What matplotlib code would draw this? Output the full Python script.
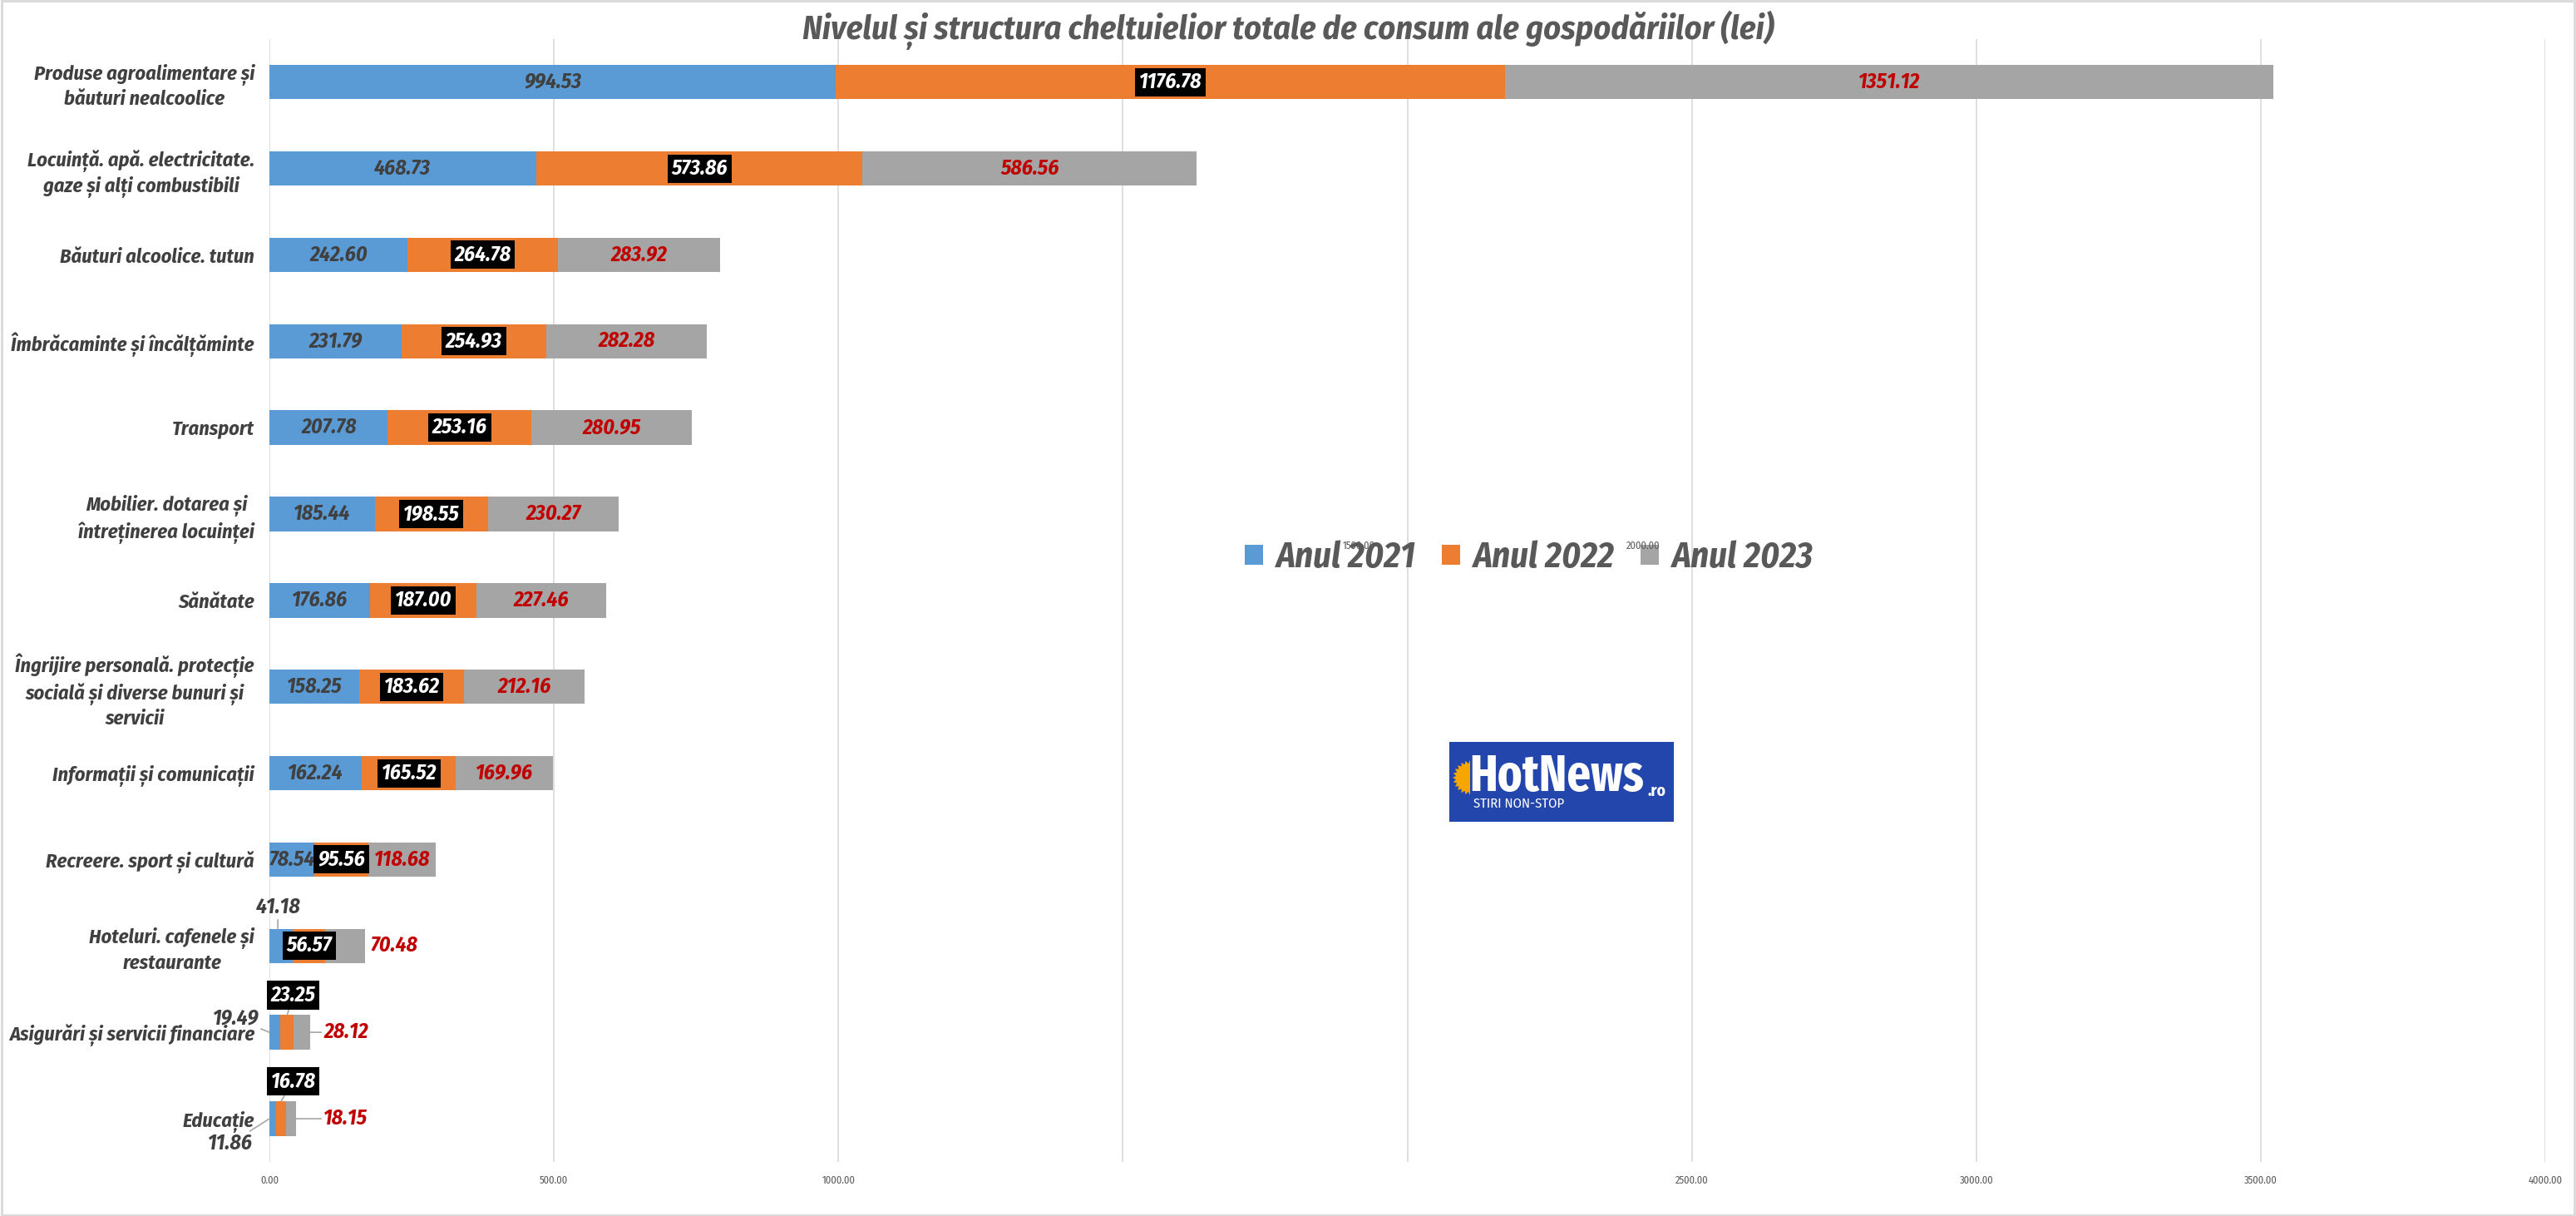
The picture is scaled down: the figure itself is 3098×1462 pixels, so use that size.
import numpy as np
import matplotlib.pyplot as plt
from matplotlib import font_manager
from matplotlib.patches import Rectangle, Polygon

# categories, top to bottom
categories = [
    "Produse agroalimentare și\nbăuturi nealcoolice",
    "Locuință. apă. electricitate.\ngaze și alți combustibili",
    "Băuturi alcoolice. tutun",
    "Îmbrăcaminte și încălțăminte",
    "Transport",
    "Mobilier. dotarea și\nîntreținerea locuinței",
    "Sănătate",
    "Îngrijire personală. protecție\nsocială și diverse bunuri și\nservicii",
    "Informații și comunicații",
    "Recreere. sport și cultură",
    "Hoteluri. cafenele și\nrestaurante",
    "Asigurări și servicii financiare",
    "Educație",
]
years = ["Anul 2021", "Anul 2022", "Anul 2023"]
v2021 = [994.53, 468.73, 242.60, 231.79, 207.78, 185.44, 176.86, 158.25, 162.24, 78.54, 41.18, 19.49, 11.86]
v2022 = [1176.78, 573.86, 264.78, 254.93, 253.16, 198.55, 187.00, 183.62, 165.52, 95.56, 56.57, 23.25, 16.78]
v2023 = [1351.12, 586.56, 283.92, 282.28, 280.95, 230.27, 227.46, 212.16, 169.96, 118.68, 70.48, 28.12, 18.15]
x_ticks = [0, 500, 1000, 1500, 2000, 2500, 3000, 3500, 4000]

# a narrow face is closest to the squeezed Calibri of the original
avail = {f.name for f in font_manager.fontManager.ttflist}
if "Fira Sans Condensed" in avail:
    FONT, k = ["Fira Sans Condensed", "DejaVu Sans"], 1.0
elif "Liberation Sans Narrow" in avail:
    FONT, k = ["Liberation Sans Narrow", "DejaVu Sans"], 1.0
else:
    FONT, k = ["Liberation Sans", "DejaVu Sans"], 0.82
plt.rcParams["font.family"] = FONT

colors = ["#5B9BD5", "#ED7D31", "#A5A5A5"]
TXT = "#404040"
GREY = "#595959"
W, H = 3098, 1462

fig = plt.figure(figsize=(W / 100, H / 100), dpi=100)
ax = fig.add_axes([0.1046, 0.0445, 0.8835, 0.9235])

y = np.arange(len(categories))
series = [np.array(v2021), np.array(v2022), np.array(v2023)]
left = np.zeros(len(categories))
bars = []
lefts = []
for vals, c, name in zip(series, colors, years):
    b = ax.barh(y, vals, left=left, height=0.4, color=c, label=name, zorder=3)
    bars.append(b)
    lefts.append(left.copy())
    left = left + vals

ax.set_xlim(0, 4000)
ax.set_ylim(len(categories) - 0.5, -0.5)
ax.set_xticks(x_ticks)
ax.set_xticklabels([f"{t:.2f}" if t not in (1500, 2000) else "" for t in x_ticks],
                   fontsize=9 * k, color=GREY)
ax.tick_params(axis="x", length=0, pad=12)
ax.set_yticks(y)
ax.set_yticklabels(categories, fontsize=17.5 * k, color=TXT, style="italic",
                   fontweight="bold", linespacing=1.3)
for lab in ax.get_yticklabels():
    lab.set_multialignment("center")
ax.tick_params(axis="y", length=0, pad=13)
ax.grid(axis="x", color="#D9D9D9", linewidth=1.2, zorder=0)
for s in ax.spines.values():
    s.set_visible(False)

lab_kw = dict(fontsize=18.5 * k, style="italic", fontweight="bold", va="center", zorder=5)
box = dict(boxstyle="square,pad=0.18", fc="black", ec="none")
line = dict(arrowstyle="-", color="#A6A6A6", lw=1.2, shrinkA=0, shrinkB=0)

n_big = len(categories) - 3
for i in range(len(categories)):
    c0 = lefts[0][i] + v2021[i] / 2
    c1 = lefts[1][i] + v2022[i] / 2
    c2 = lefts[2][i] + v2023[i] / 2
    end = lefts[2][i] + v2023[i]
    if i < n_big:
        ax.text(c0, y[i], f"{v2021[i]:.2f}", color=TXT, ha="center", **lab_kw)
        ax.text(c1, y[i], f"{v2022[i]:.2f}", color="white", ha="center", bbox=box, **lab_kw)
        ax.text(c2, y[i], f"{v2023[i]:.2f}", color="#C00000", ha="center", **lab_kw)
    elif i == n_big:
        # Hoteluri
        ax.annotate(f"{v2021[i]:.2f}", xy=(c0 - 6, y[i] - 0.2), xytext=(15, y[i] - 0.45),
                    color=TXT, ha="center", arrowprops=line, **lab_kw)
        ax.text(c1, y[i], f"{v2022[i]:.2f}", color="white", ha="center", bbox=box, **lab_kw)
        ax.text(end + 9, y[i], f"{v2023[i]:.2f}", color="#C00000", ha="left", **lab_kw)
    else:
        dy_low = -0.16 if i == n_big + 1 else 0.29
        ax.annotate(f"{v2021[i]:.2f}", xy=(0, y[i]), xytext=(-19 if dy_low < 0 else -30, y[i] + dy_low),
                    color=TXT, ha="right", arrowprops=line, **lab_kw)
        ax.annotate(f"{v2022[i]:.2f}", xy=(c1, y[i] - 0.2), xytext=(42, y[i] - 0.43),
                    color="white", ha="center", bbox=box, arrowprops=line, **lab_kw)
        ax.annotate(f"{v2023[i]:.2f}", xy=(end, y[i]), xytext=(95, y[i]),
                    color="#C00000", ha="left", arrowprops=line, **lab_kw)

fig.text(0.5, 0.975, "Nivelul și structura cheltuielior totale de consum ale gospodăriilor (lei)",
         ha="center", va="center", fontsize=29 * k, style="italic", fontweight="bold", color=GREY)

leg = ax.legend(handles=bars, loc="center", bbox_to_anchor=(0.5935, 0.541),
                bbox_transform=fig.transFigure, ncol=3, frameon=False,
                handlelength=0.5, handleheight=0.5, handletextpad=0.35, columnspacing=0.75,
                prop=dict(family=FONT, size=31 * k, style="italic", weight="bold"))
for t in leg.get_texts():
    t.set_color(GREY)

# the two stray tick labels that sit in the legend
fig.text(0.5275, 0.5485, "1500.00", fontsize=9 * k, color=GREY, ha="center", zorder=10)
fig.text(0.638, 0.5485, "2000.00", fontsize=9 * k, color=GREY, ha="center", zorder=10)

# HotNews logo
lx, ly, lw, lh = 1743 / W, 1 - 988 / H, 270 / W, 96 / H
fig.patches.append(Rectangle((lx, ly), lw, lh, transform=fig.transFigure,
                             facecolor="#2346AC", edgecolor="none", zorder=5))
t = np.linspace(np.pi / 2, 3 * np.pi / 2, 25)
r = np.where(np.arange(25) % 2 == 0, 21, 17)
sun = np.column_stack([(1768 + r * np.cos(t)) / W, 1 - (935 - r * np.sin(t)) / H])
fig.patches.append(Polygon(sun, closed=True, transform=fig.transFigure,
                           facecolor="#F7A600", edgecolor="none", zorder=6))
fig.text(1767 / W, 1 - 935 / H, "HotNews", color="white", fontsize=44 * k,
         fontweight="bold", va="center", ha="left", zorder=7,
         family=["Fira Sans Extra Condensed"] + FONT)
fig.text(1981 / W, 1 - 957 / H, ".ro", color="white", fontsize=14 * k, fontweight="bold",
         va="baseline", ha="left", zorder=7)
fig.text(1772 / W, 1 - 971 / H, "STIRI NON-STOP", color="white", fontsize=12 * k,
         va="baseline", ha="left", zorder=7)

# outer frame
fig.patches.append(Rectangle((0.0005, 0.001), 0.999, 0.998, transform=fig.transFigure,
                             facecolor="none", edgecolor="#D9D9D9", lw=2))

fig.savefig("out.png", dpi=100)
